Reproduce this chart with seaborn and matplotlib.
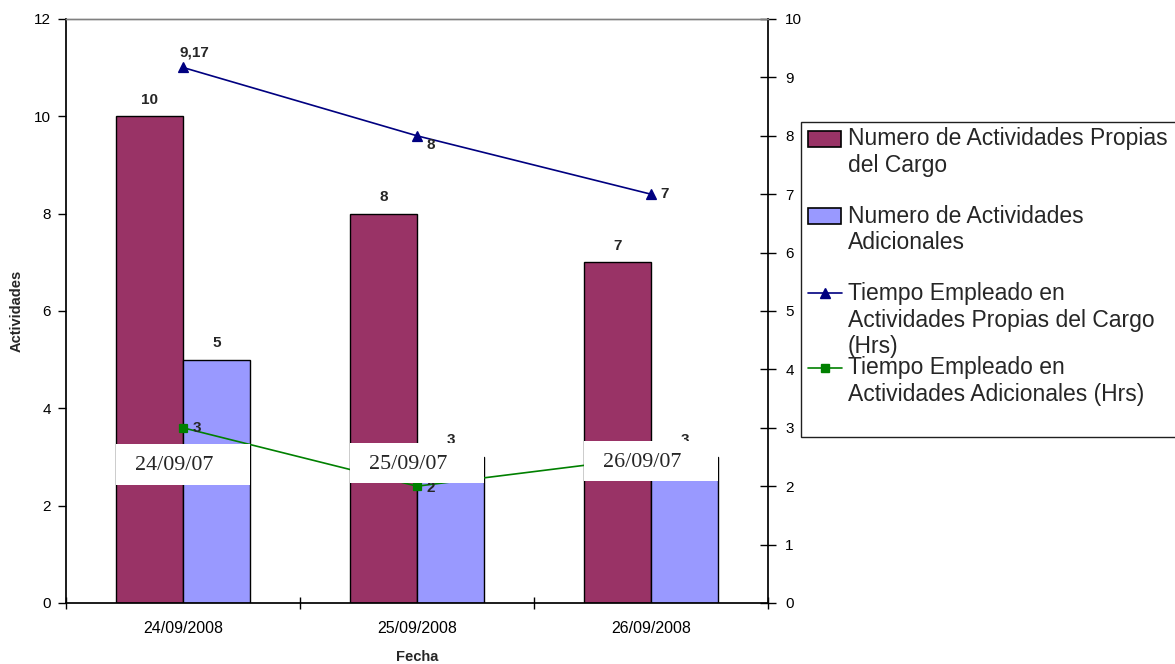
import matplotlib
matplotlib.use('Agg')
import matplotlib.pyplot as plt
import seaborn as sns
import pandas as pd
from matplotlib.patches import Rectangle
from matplotlib.lines import Line2D

# ---------------- data ----------------
fechas = ['24/09/2008', '25/09/2008', '26/09/2008']
actividades_propias = [10, 8, 7]
actividades_adicionales = [5, 3, 3]
tiempo_propias = [9.17, 8, 7]
tiempo_adicionales = [3, 2, 2.5]
etiq_tiempo_propias = ['9,17', '8', '7']
etiq_tiempo_adicionales = ['3', '2', '']   # third label hidden behind the date box
cajas_texto = ['24/09/07', '25/09/07', '26/09/07']
series = ['Numero de Actividades Propias del Cargo',
          'Numero de Actividades Adicionales',
          'Tiempo Empleado en Actividades Propias del Cargo (Hrs)',
          'Tiempo Empleado en Actividades Adicionales (Hrs)']
legend_labels = ['Numero de Actividades Propias\ndel Cargo',
                 'Numero de Actividades\nAdicionales',
                 'Tiempo Empleado en\nActividades Propias del Cargo\n(Hrs)',
                 'Tiempo Empleado en\nActividades Adicionales (Hrs)']

C_PROP = '#993366'
C_ADIC = '#9999FF'
C_TP = '#000080'
C_TA = '#008000'

sns.set_theme(style='white')
plt.rcParams['font.family'] = ['Liberation Sans', 'DejaVu Sans']

W, H = 1175, 664
fig = plt.figure(figsize=(W / 100, H / 100), dpi=100)
ax = fig.add_axes([66 / W, 1 - 603 / H, (768 - 66) / W, (603 - 19) / H])

df = pd.DataFrame({
    'Fecha': fechas * 2,
    'Actividades': actividades_propias + actividades_adicionales,
    'Serie': [series[0]] * 3 + [series[1]] * 3,
})
sns.barplot(data=df, x='Fecha', y='Actividades', hue='Serie', order=fechas,
            hue_order=series[:2], palette=[C_PROP, C_ADIC], saturation=1,
            width=0.573, gap=0, edgecolor='black', linewidth=1, ax=ax,
            legend=False, zorder=2)
for cont in ax.containers:
    ax.bar_label(cont, fmt='%g', padding=7, fontsize=11, fontweight='bold')

ax.set_ylim(0, 12)
ax.set_yticks(range(0, 13, 2))

ax2 = ax.twinx()
sns.pointplot(x=fechas, y=tiempo_propias, order=fechas, ax=ax2, color=C_TP,
              markers='^', markersize=6.5, linewidth=1.2, errorbar=None)
sns.pointplot(x=fechas, y=tiempo_adicionales, order=fechas, ax=ax2, color=C_TA,
              markers='s', markersize=6, linewidth=1.2, errorbar=None)
ax2.set_ylim(0, 10)
ax2.set_yticks(range(0, 11))
ax2.set_ylabel('')

offs_tp = [(8.5, 11), (10, -6.5), (10, 0)]
offs_ta = [(10, 0), (10, -1.5), (10, 0)]
for i, (v, t) in enumerate(zip(tiempo_propias, etiq_tiempo_propias)):
    if t:
        ax2.annotate(t, (i, v), xytext=offs_tp[i], textcoords='offset points',
                     ha='center', va='center', fontsize=11, fontweight='bold')
for i, (v, t) in enumerate(zip(tiempo_adicionales, etiq_tiempo_adicionales)):
    if t:
        ax2.annotate(t, (i, v), xytext=offs_ta[i], textcoords='offset points',
                     ha='center', va='center', fontsize=11, fontweight='bold')

# white date boxes overlapping the chart
box_y = [(2.02, 0.70, 2.35), (2.05, 0.69, 2.38), (2.09, 0.68, 2.41)]
for i, txt in enumerate(cajas_texto):
    y0, h, ym = box_y[i]
    ax2.add_patch(Rectangle((i - 0.2865, y0), 0.573, h, facecolor='white',
                            edgecolor='none', zorder=10, clip_on=False))
    ax2.text(i - 0.2865 + 0.082, ym, txt, family=['Liberation Serif'],
             fontsize=15.8, va='center', ha='left', zorder=11)

# axes styling
ax.set_xlim(-0.5, 2.5)
ax.set_xticks(range(len(fechas)))
ax.set_xticklabels(fechas)
ax.set_xticks([-0.5, 0.5, 1.5, 2.5], minor=True)
ax.tick_params(axis='x', which='major', length=0, pad=13, labelsize=11.5, colors='black')
ax.tick_params(axis='x', which='minor', direction='inout', length=9, width=1,
               color='black', bottom=True)
ax.tick_params(axis='y', direction='out', length=6, width=1, pad=5,
               labelsize=11, left=True, colors='black')
ax2.tick_params(axis='y', direction='inout', length=12, width=1, pad=6.5,
                labelsize=11, right=True, colors='black')
ax.set_xlabel('Fecha', fontsize=10.5, fontweight='bold', labelpad=10)
ax.set_ylabel('Actividades', fontsize=10.5, fontweight='bold', labelpad=7)

for a in (ax, ax2):
    a.spines['top'].set_color('#808080')
    a.spines['top'].set_linewidth(1)
    a.spines['bottom'].set_color('black')
    a.spines['left'].set_color('black')
    a.spines['right'].set_color('black')
    a.grid(False)
ax.spines['right'].set_visible(False)
ax2.spines['left'].set_visible(False)
ax2.spines['bottom'].set_visible(False)

# legend (manual layout to mimic the original)
def fx(x):
    return x / W

def fy(y):
    return 1 - y / H

fig.add_artist(Rectangle((fx(801), fy(437)), fx(1200) - fx(801), fy(122) - fy(437),
                         transform=fig.transFigure, facecolor='white',
                         edgecolor='#202020', linewidth=1))
for y, c in [(139, C_PROP), (216, C_ADIC)]:
    fig.add_artist(Rectangle((fx(808), fy(y + 8)), fx(841) - fx(808), fy(y - 8) - fy(y + 8),
                             transform=fig.transFigure, facecolor=c,
                             edgecolor='black', linewidth=1.2))
for y, c, m, ms in [(293, C_TP, '^', 6.5), (368, C_TA, 's', 6)]:
    fig.add_artist(Line2D([fx(808), fx(842)], [fy(y), fy(y)], transform=fig.transFigure,
                          color=c, linewidth=1.2))
    fig.add_artist(Line2D([fx(825)], [fy(y)], transform=fig.transFigure,
                          color=c, marker=m, markersize=ms, linestyle='none'))
for yc, lab in zip([152, 229.5, 320, 381], legend_labels):
    fig.text(fx(848), fy(yc), lab, ha='left', va='center', fontsize=16.5,
             linespacing=1.18)

fig.savefig('out.png', dpi=100)
